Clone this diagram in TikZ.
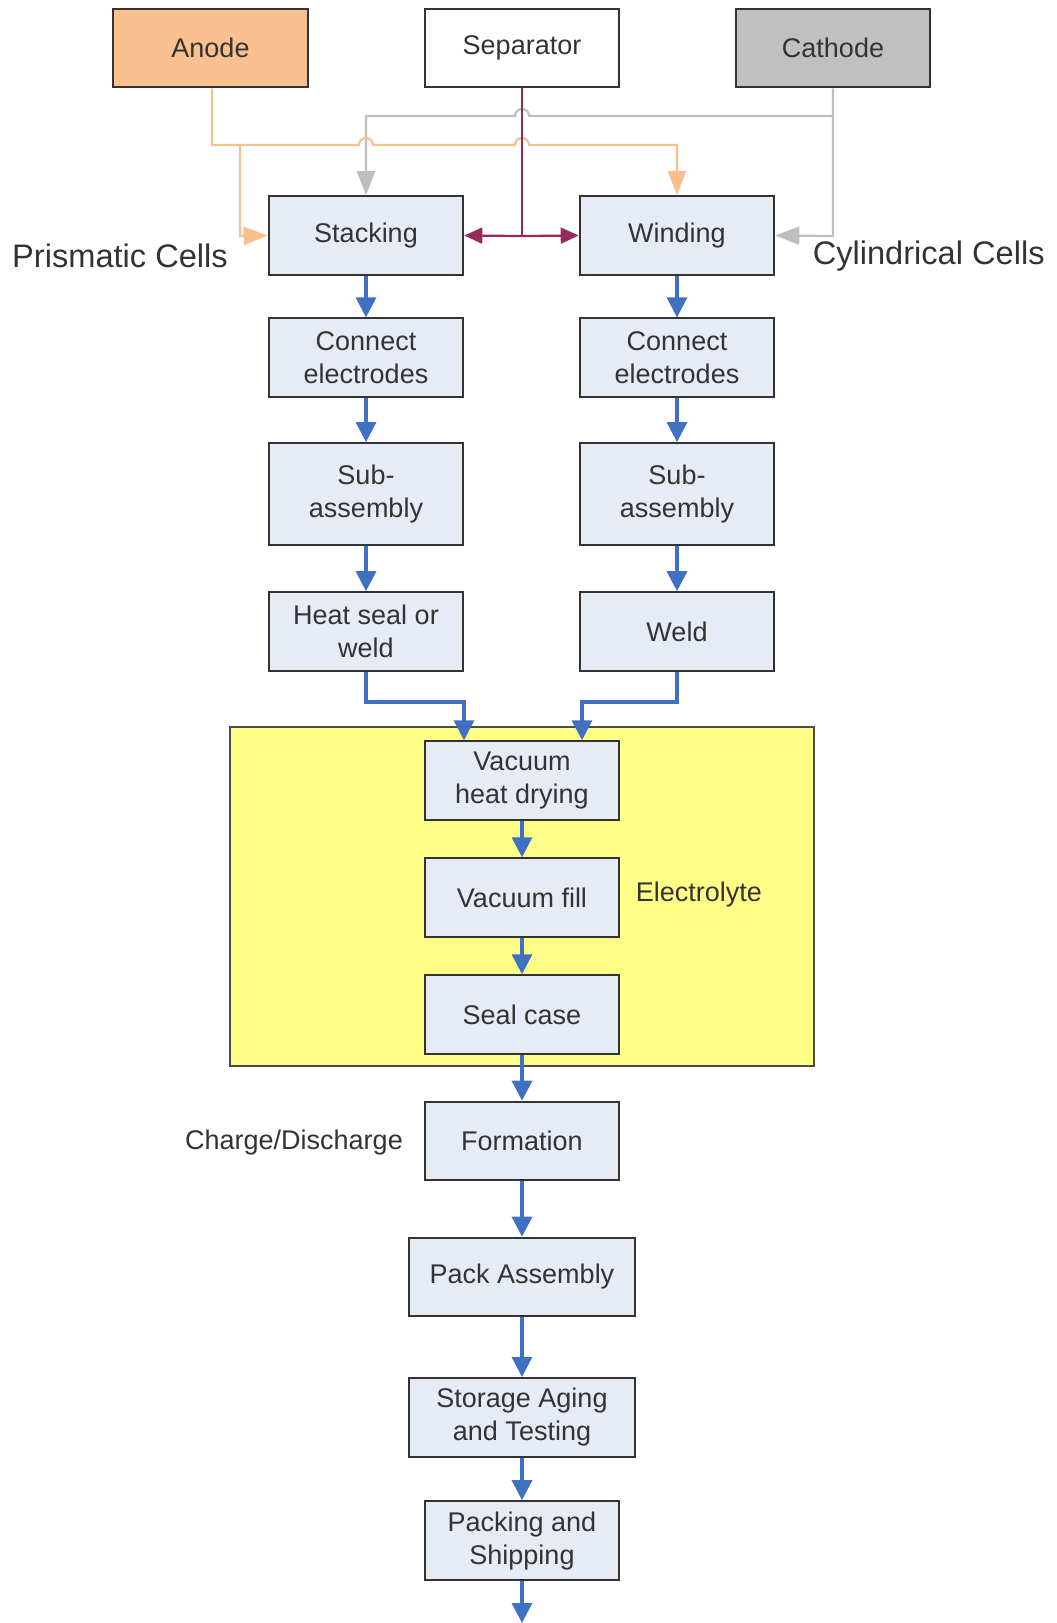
\documentclass[tikz,border=0pt]{standalone}
\usepackage{fontspec}
\setmainfont{Liberation Sans}
\definecolor{boxfill}{RGB}{230,235,245}
\definecolor{anodefill}{RGB}{250,192,143}
\definecolor{cathodefill}{RGB}{192,192,192}
\definecolor{zonefill}{RGB}{255,255,136}
\definecolor{flowblue}{RGB}{64,112,196}
\definecolor{anodeline}{RGB}{249,192,140}
\definecolor{cathodeline}{RGB}{190,190,190}
\definecolor{sepline}{RGB}{150,42,92}
\usetikzlibrary{arrows.meta,positioning,calc}

\begin{document}
\begin{tikzpicture}[x=0.5pt, y=-0.5pt,
      box/.style={draw=black!80, line width=1pt, fill=boxfill, minimum width=97.3pt,
                  minimum height=39.3pt, inner sep=0pt, align=center, text=black!80,
                  font=\fontsize{13.5}{16.5}\selectfont},
      widebox/.style={box, minimum width=112.8pt},
      tallbox/.style={box, minimum height=50.7pt},
      lbl/.style={text=black!80, font=\fontsize{13.5}{16.5}\selectfont},
      biglbl/.style={text=black!80, font=\fontsize{16.3}{19}\selectfont},
      flow/.style={-{Triangle[width=10pt,length=10pt]}, line width=1.6pt, draw=flowblue},
      anl/.style={-{Triangle[width=9pt,length=12pt]}, line width=1.1pt, draw=anodeline},
      cal/.style={-{Triangle[width=9pt,length=12pt]}, line width=1.1pt, draw=cathodeline},
      spl/.style={-{Triangle[width=8pt,length=9pt]}, line width=1.1pt, draw=sepline}
    ]
      \useasboundingbox (0,0) rectangle (1056,1623);
      \draw[draw=black!70, line width=1pt, fill=zonefill] (230,727) rectangle (814,1066);

      \node[box, fill=anodefill] (an) at (210.5,48) {Anode};
      \node[box, fill=white] (sep) at (522,48) {Separator};
      \node[box, fill=cathodefill] (ca) at (833,48) {Cathode};

      \node[box] (stk) at (366,235.5) {Stacking};
      \node[box] (cel) at (366,357.7) {Connect\\electrodes};
      \node[tallbox] (sal) at (366,493.8) {Sub-\\assembly};
      \node[box] (hsw) at (366,631.5) {Heat seal or\\weld};

      \node[box] (wnd) at (677,235.5) {Winding};
      \node[box] (cer) at (677,357.7) {Connect\\electrodes};
      \node[tallbox] (sar) at (677,493.8) {Sub-\\assembly};
      \node[box] (wld) at (677,631.5) {Weld};

      \node[box] (vhd) at (522,780.6) {Vacuum\\heat drying};
      \node[box] (vfl) at (522,897.6) {Vacuum fill};
      \node[box] (slc) at (522,1014.6) {Seal case};
      \node[box] (frm) at (522,1141) {Formation};
      \node[widebox] (pka) at (522,1277) {Pack Assembly};
      \node[widebox] (sat) at (522,1417.3) {Storage Aging\\and Testing};
      \node[box] (pas) at (522,1540.5) {Packing and\\Shipping};

      \node[biglbl] (pc) at (120,255.7) {Prismatic Cells};
      \node[biglbl] (cc) at (928.7,255.7) {Cylindrical Cells};
      \node[lbl] (el) at (698.8,894.5) {Electrolyte};
      \node[lbl] (cd) at (294,1143) {Charge/Discharge};

      \coordinate (sj) at (522,236);
      \coordinate (cj) at (833,236);
      \coordinate (aj) at (240,236);
      \coordinate (mL) at (464,702);
      \coordinate (mR) at (582,702);
      \coordinate (end) at (522,1623);

      \draw[cal] (ca.south) -- (cj) -- (wnd.east);
      \draw[cal] (833,116) -- (529,116) arc[start angle=0, end angle=180, radius=3.5pt]
        -- (366,116) -- (stk.north);
      \draw[anl] (an.south -| 212,0) -- (212,145) -- (359,145)
        arc[start angle=180, end angle=0, radius=3.5pt] -- (515,145)
        arc[start angle=180, end angle=0, radius=3.5pt] -- (677,145) -- (wnd.north);
      \draw[anl] (240,145) -- (aj) -- (stk.west);
      \draw[line width=1.1pt, draw=sepline] (sep.south) -- (sj);
      \draw[spl] (sj) -- (stk.east);
      \draw[spl] (sj) -- (wnd.west);

      \draw[flow] (stk) -- (cel);
      \draw[flow] (cel) -- (sal);
      \draw[flow] (sal) -- (hsw);
      \draw[flow] (wnd) -- (cer);
      \draw[flow] (cer) -- (sar);
      \draw[flow] (sar) -- (wld);
      \draw[flow] (hsw.south) |- (mL) -- (mL |- vhd.north);
      \draw[flow] (wld.south) |- (mR) -- (mR |- vhd.north);
      \draw[flow] (vhd) -- (vfl);
      \draw[flow] (vfl) -- (slc);
      \draw[flow] (slc) -- (frm);
      \draw[flow] (frm) -- (pka);
      \draw[flow] (pka) -- (sat);
      \draw[flow] (sat) -- (pas);
      \draw[flow] (pas) -- (end);
    \end{tikzpicture}
\end{document}
